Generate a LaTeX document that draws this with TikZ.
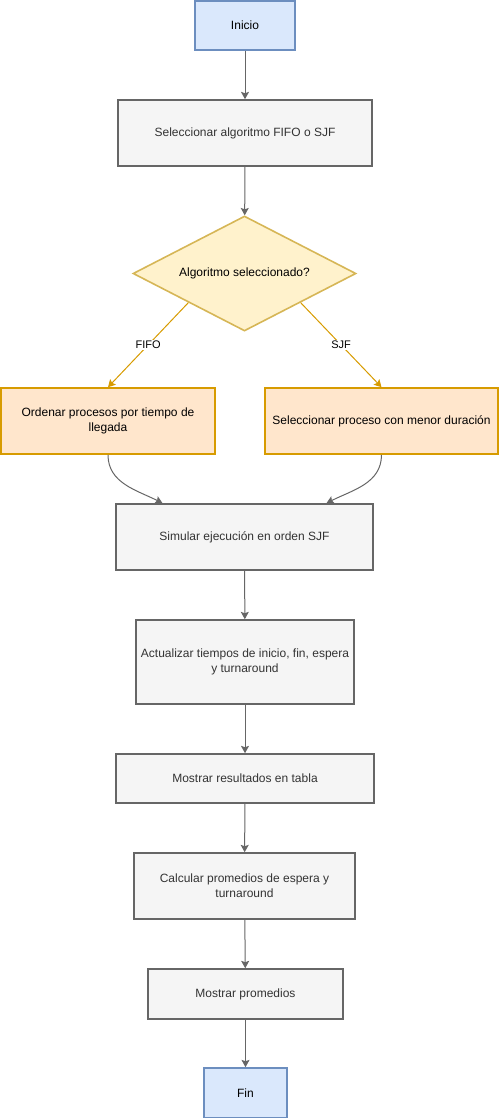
\documentclass[tikz,border=0pt]{standalone}
\usepackage{fontspec}
\setmainfont{Liberation Sans}
\usetikzlibrary{shapes.geometric,arrows.meta,calc}

\definecolor{azulRelleno}{HTML}{DAE8FC}
\definecolor{azulBorde}{HTML}{6C8EBF}
\definecolor{grisRelleno}{HTML}{F5F5F5}
\definecolor{grisBorde}{HTML}{666666}
\definecolor{grisTexto}{HTML}{333333}
\definecolor{amarilloRelleno}{HTML}{FFF2CC}
\definecolor{amarilloBorde}{HTML}{D6B656}
\definecolor{naranjaRelleno}{HTML}{FFE6CC}
\definecolor{naranjaBorde}{HTML}{D79B00}

\begin{document}
\begin{tikzpicture}[x=0.75pt,y=0.75pt,yscale=-1,xscale=1,
  texto/.style={font=\fontsize{9}{11.25}\selectfont,align=center,inner sep=0.75pt},
  terminal/.style={texto,draw=azulBorde,fill=azulRelleno,line width=1.2pt},
  proceso/.style={texto,draw=grisBorde,fill=grisRelleno,line width=1.2pt,text=grisTexto},
  decision/.style={texto,diamond,aspect=1.94,inner sep=0pt,draw=amarilloBorde,fill=amarilloRelleno,line width=1.2pt},
  rama/.style={texto,draw=naranjaBorde,fill=naranjaRelleno,line width=1.2pt},
  flecha/.style={draw=grisBorde,line width=0.75pt,-{Stealth[length=5.5pt,width=6pt,inset=1pt]}},
  flechaRama/.style={draw=naranjaBorde,line width=0.75pt,-{Stealth[length=5.5pt,width=6pt,inset=1pt]}},
  etiqueta/.style={font=\fontsize{8.25}{10}\selectfont,fill=white,inner sep=1pt}]
\useasboundingbox (0,0) rectangle (499,1118);

%Shape: Rectangle [inicio]
\node [terminal,minimum width=75pt,minimum height=36.75pt] (inicio) at (245,25.5) {Inicio};
%Shape: Rectangle [seleccionar algoritmo]
\node [proceso,minimum width=190.5pt,minimum height=49.5pt] (selAlg) at (245,133) {Seleccionar algoritmo FIFO o SJF};
%Shape: Diamond [decision]
\node [decision,minimum width=167.25pt,minimum height=86.25pt] (decAlg) at (244.5,273.5) {Algoritmo seleccionado?};
%Shape: Rectangle [FIFO]
\node [rama,minimum width=160.5pt,minimum height=49.5pt] (ordenar) at (108,421) {Ordenar procesos por tiempo de\\llegada};
%Shape: Rectangle [SJF]
\node [rama,minimum width=174.75pt,minimum height=49.5pt] (selProc) at (381.5,421) {Seleccionar proceso con menor duración};
%Shape: Rectangle [simular]
\node [proceso,minimum width=192.75pt,minimum height=49.5pt] (simular) at (244.5,537) {Simular ejecución en orden SJF};
%Shape: Rectangle [actualizar]
\node [proceso,minimum width=163.5pt,minimum height=63pt] (actualizar) at (245,662) {Actualizar tiempos de inicio, fin, espera\\y turnaround};
%Shape: Rectangle [tabla]
\node [proceso,minimum width=193.5pt,minimum height=36.75pt] (tabla) at (245,778.5) {Mostrar resultados en tabla};
%Shape: Rectangle [calcular]
\node [proceso,minimum width=165.75pt,minimum height=49.5pt] (calcular) at (244.5,886) {Calcular promedios de espera y\\turnaround};
%Shape: Rectangle [promedios]
\node [proceso,minimum width=146.25pt,minimum height=37.5pt] (promedios) at (245.5,994) {Mostrar promedios};
%Shape: Rectangle [fin]
\node [terminal,minimum width=62.25pt,minimum height=37.5pt] (fin) at (245.5,1093) {Fin};

%Straight Lines
\draw [flecha] (inicio) -- (selAlg);
\draw [flecha] (selAlg) -- (decAlg);
\draw [flechaRama] (decAlg.south west) -- node [etiqueta] {FIFO} (ordenar.north);
\draw [flechaRama] (decAlg.south east) -- node [etiqueta] {SJF} (selProc.north);
%Curve Lines
\draw [flecha] (ordenar.south) to [out=90,in=-153] ($(simular.north west)!0.183!(simular.north east)$);
\draw [flecha] (selProc.south) to [out=90,in=-27] ($(simular.north west)!0.817!(simular.north east)$);
%Straight Lines
\draw [flecha] (simular) -- (actualizar);
\draw [flecha] (actualizar) -- (tabla);
\draw [flecha] (tabla) -- (calcular);
\draw [flecha] (calcular) -- (promedios);
\draw [flecha] (promedios) -- (fin);

\end{tikzpicture}
\end{document}
